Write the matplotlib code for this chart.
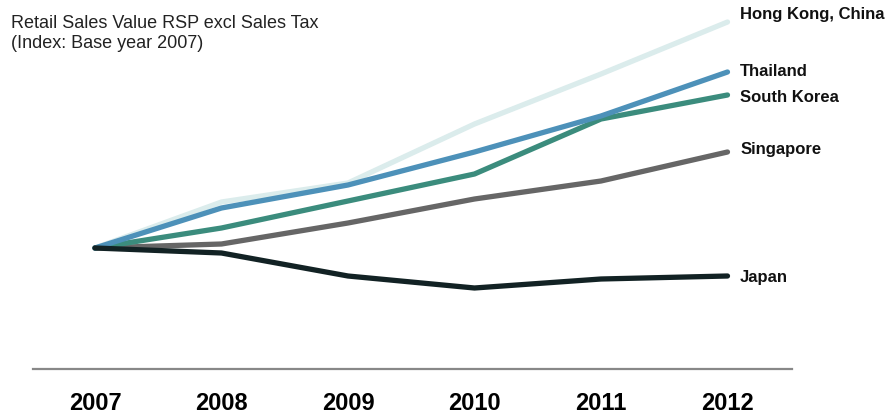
import matplotlib
matplotlib.use('Agg')
from matplotlib import pyplot as plt

years = [2007, 2008, 2009, 2010, 2011, 2012]
hong_kong = [100, 118.4, 126, 149.6, 169.6, 190.4]
thailand = [100, 116, 125.2, 138.4, 152.8, 170.4]
south_korea = [100, 108, 118.8, 129.6, 151.6, 161.2]
singapore = [100, 101.6, 110, 119.6, 126.8, 138.4]
japan = [100, 98, 88.8, 84, 87.6, 88.8]

series = [
    ('Hong Kong, China', hong_kong, '#dbecec', 194),
    ('Singapore', singapore, '#666666', 139.6),
    ('South Korea', south_korea, '#3b8c7d', 160.4),
    ('Thailand', thailand, '#4d91b9', 170.8),
    ('Japan', japan, '#122224', 88.4),
]

plt.rcParams['font.family'] = ['Liberation Sans', 'DejaVu Sans']

fig = plt.figure(figsize=(8.94, 4.14), dpi=100)
ax = fig.add_axes([33 / 894, 44 / 414, 759 / 894, 360 / 414])

for name, vals, color, label_y in series:
    ax.plot(years, vals, color=color, lw=3.8, solid_capstyle='round', solid_joinstyle='round')
    ax.text(2012.1, label_y, name, fontsize=12, fontweight='bold', va='center', ha='left',
            color='#111111', clip_on=False)

ax.set_xlim(2006.51, 2012.51)
ax.set_ylim(51.6, 195.6)
ax.set_xticks(years)
ax.set_xticklabels([str(y) for y in years], fontsize=17, fontweight='bold')
ax.tick_params(axis='x', length=0, pad=16)
ax.set_yticks([])
for side in ['left', 'right', 'top']:
    ax.spines[side].set_visible(False)
ax.spines['bottom'].set_color('#888888')
ax.spines['bottom'].set_linewidth(1.6)

fig.text(11 / 894, 1 - 24 / 414, 'Retail Sales Value RSP excl Sales Tax',
         fontsize=13, color='#222222', va='center', ha='left')
fig.text(11 / 894, 1 - 44 / 414, '(Index: Base year 2007)',
         fontsize=13, color='#222222', va='center', ha='left')

fig.savefig('out.png', dpi=100)
